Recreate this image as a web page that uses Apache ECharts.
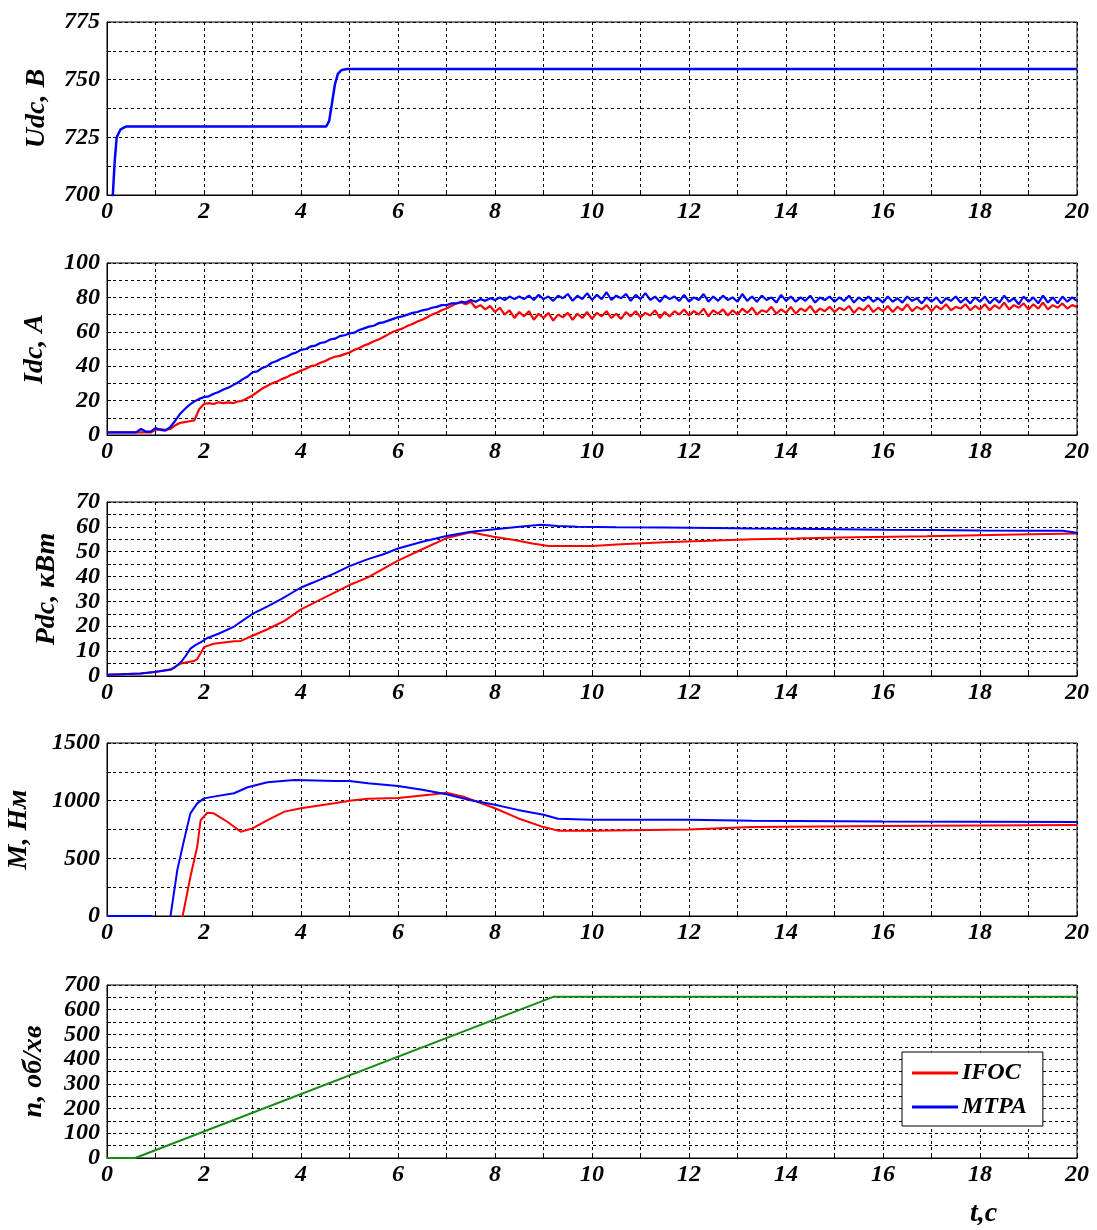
<!DOCTYPE html>
<html>
<head>
<meta charset="utf-8">
<script src="https://cdn.jsdelivr.net/npm/echarts@6/dist/echarts.min.js"></script>
<style>
html,body{margin:0;padding:0;background:#fff;}
#chart{width:1097px;height:1230px;}
</style>
</head>
<body>
<div id="chart"></div>
<script>
// ---------- DATA ----------
// Udc, B (MTPA only) : [t, value]
const UDC = [[0.05,690],[0.12,700],[0.16,715],[0.2,725],[0.28,728.5],[0.4,729.7],[4.52,729.7],[4.58,732],[4.64,740],[4.7,748],[4.76,752.5],[4.84,754.2],[4.95,754.6],[20,754.6]];

// Idc, A sampled every 0.1 s from t = 0 to 20
const IDC_STEP = 0.1;
const IDC_MTPA = [
1.5,1.5,1.5,1.5,1.5,1.5,1.5,3.5,2,2,
4,3,2.5,4.5,8,12,15,17.5,19.5,21,
22,22.5,24,25,26.5,27.5,29,30.5,32.5,34,
36.5,37,39,40,42,43,44.5,45.5,47,48,
49.5,50,51.5,52,53.5,54,55.5,56,57.5,58,
59,59.5,61,62,63,63.5,65,65.5,66.5,67.5,
68.5,69,70,71,71.5,72.5,73,74,74.5,75.5,
75.5,76.5,76.5,77.5,77,78.5,77.5,79,78,79.5,
78.5,80,78.5,80.5,79,80.5,79,81,78.5,81.5,
79,80.5,78,81,79.5,82,78,81,79,82.5,
78.5,81.5,79,83,78.5,81,79.5,82,78,81.5,
79,82.5,78.5,80.5,77.5,81,79,80.5,78,81.5,
77.5,80,78.5,82,77.5,80.5,78,81,78.5,80,
77.5,82,78,80.5,77.5,81,78.5,80,77,81.5,
78,80.5,77.5,80,78,81,77,80,78.5,80.5,
77.5,80,78,81,77,80,78,80.5,77.5,79.5,
77,80.5,77.5,79.5,77,80.5,78,79.5,76.5,80,
77.5,80,76.5,79.5,78,80.5,77,79.5,76.5,80,
77.5,80.5,76.5,79.5,77,81,77.5,79.5,76,80.5,
77.5,80,76.5,81,77,80,76.5,80.5,77.5,80,
78];
const IDC_IFOC = [
1.5,1.5,1.5,1.5,1.5,1.5,1.5,1.5,1.5,1.5,
3,3.5,3,3.5,5.5,7,7.5,8,8.5,15,
18,18.5,18,19,18.5,19,18.5,19.5,20,21.5,
23,25,27,28.5,30,31,32.5,33.5,35,36,
37.5,38.5,40,40.5,42,43,44.5,45.5,46,47,
48,49.5,50.5,52,53,54.5,55.5,57,58.5,60,
61,62,63.5,64.5,66,67,68.5,70,71,72.5,
73.5,75,76.5,77,76,77.5,74,75.5,73,75,
71.5,74,70,72.5,68,71.5,69,72,67,70.5,
68,71,66.5,70,68.5,71,67,70.5,68,71.5,
67.5,71,69,72,68,70.5,67.5,71.5,69,72,
68.5,71,69.5,72.5,68,71.5,69,72,70,73,
69.5,72,70,73.5,69,72.5,70.5,73,69.5,72.5,
70,73.5,71,74,70,72.5,71.5,74.5,70.5,73,
71,74.5,70.5,73.5,72,75,71,73.5,72,74.5,
71.5,74,72.5,75,71,74,72.5,75.5,71.5,74,
72,75,71.5,74.5,72.5,76,72,74.5,73,75.5,
72,75,73,76,72.5,74.5,73.5,76,72.5,75,
73,76,72.5,75.5,73.5,77,73,75.5,74,76.5,
73,76,73.5,77,73,75.5,74,76.5,73.5,75.5,
74.5];

// Pdc, kW : [t, value]
const PDC_MTPA = [[0,0.5],[0.3,0.7],[0.69,1],[0.97,1.6],[1.31,2.5],[1.4,3.5],[1.52,5.5],[1.62,8],[1.72,11],[1.83,12.5],[1.93,13.5],[2.07,15.3],[2.3,17],[2.62,19.9],[3,25],[3.31,28],[3.6,31],[4,35.6],[4.3,38],[4.69,41.3],[5,44.2],[5.38,47],[5.7,49],[6,51.3],[6.5,54],[7,56.3],[7.5,58],[8,59],[8.5,60],[8.95,60.8],[9.3,60.3],[9.7,60],[10.5,59.8],[11.5,59.7],[12.5,59.5],[13.3,59.3],[14.2,59.2],[15.1,59],[16,58.8],[17,58.7],[18,58.5],[19,58.4],[19.7,58.4],[20,57.6]];
const PDC_IFOC = [[0,0.5],[0.7,1],[1.0,1.6],[1.31,2.7],[1.52,5],[1.79,6],[1.86,6.8],[2,11.6],[2.2,13],[2.62,14],[2.76,14.1],[3,16.2],[3.31,18.8],[3.66,22.2],[4,26.8],[4.41,30.8],[5,36.6],[5.38,39.7],[6,46.4],[6.5,51],[7,55.5],[7.5,57.8],[7.97,56],[8.4,54.7],[8.77,53.3],[9.1,52.3],[10,52.3],[10.6,53],[11.5,53.8],[12.4,54.4],[13.3,55],[14.2,55.3],[15.1,55.7],[16.9,56.2],[18.75,56.9],[20,57.3]];

// M, Nm : [t, value]
const M_MTPA = [[0,0],[0.93,0],[1.0,-250],[1.25,-200],[1.31,0],[1.45,400],[1.59,660],[1.72,890],[1.86,977],[2,1020],[2.2,1035],[2.62,1064],[2.9,1116],[3.31,1159],[3.86,1180],[4.3,1175],[4.69,1171],[5,1170],[5.38,1150],[6,1127],[6.5,1095],[7,1055],[7.5,1003],[8,965],[8.47,920],[9,878],[9.3,843],[10,835],[12,835],[13.3,826],[16,820],[18,818],[20,815]];
const M_IFOC = [[0,0],[0.9,0],[1.0,-300],[1.5,-100],[1.56,0],[1.72,340],[1.86,600],[1.93,830],[2.07,895],[2.2,890],[2.48,817],[2.76,730],[3,760],[3.31,832],[3.66,905],[4,934],[4.69,977],[5,1000],[5.38,1017],[6,1024],[6.7,1054],[7,1068],[7.35,1034],[8,934],[8.47,848],[9,771],[9.3,740],[10,740],[12,750],[13.3,771],[16,780],[18,785],[20,790]];

// n, rpm : [t, value]
const N_SPEED = [[0,0],[0.58,0],[9.2,652],[20,652]];

// Axis definitions (labels)
const Y_NAMES = ['Udc, B', 'Idc, A', 'Pdc, кВт', 'M, Нм', 'n, об/хв'];
const LEGEND_NAMES = ['IFOC', 'MTPA'];
const X_NAME = 't,c';

// ---------- CHART ----------
const FONT = '"Liberation Serif", "Times New Roman", serif';
const RED = '#ff0000', BLUE = '#0000ff', GREEN = '#178a17';

const panels = [
  {top: 22,  height: 173, min: 700, max: 775, interval: 12.5, step: 25, gap: 56},
  {top: 263, height: 172, min: 0, max: 100, interval: 10, step: 20, gap: 58},
  {top: 502, height: 174, min: 0, max: 70, interval: 5, step: 10, gap: 46},
  {top: 743, height: 173, min: 0, max: 1500, interval: 250, step: 500, gap: 74},
  {top: 985, height: 173, min: 0, max: 700, interval: 50, step: 100, gap: 59}
];

const grids = [], xAxes = [], yAxes = [];
const gridLine = {show: true, lineStyle: {color: '#000', width: 1, type: [3, 3]}};
panels.forEach((p, i) => {
  grids.push({left: 107, width: 970, top: p.top, height: p.height, show: true, borderColor: '#000', borderWidth: 1, backgroundColor: 'transparent', containLabel: false, outerBoundsMode: 'none'});
  xAxes.push({
    type: 'value', gridIndex: i, min: 0, max: 20, interval: 1,
    axisLine: {show: true, lineStyle: {color: '#000', width: 1}},
    axisTick: {show: true, inside: true, length: 4, lineStyle: {color: '#000'}},
    splitLine: gridLine,
    axisLabel: {
      margin: 5, color: '#000', fontFamily: FONT, fontSize: 24, fontWeight: 'bold', fontStyle: 'italic',
      formatter: v => (Math.round(v) % 2 === 0 ? String(Math.round(v)) : '')
    }
  });
  yAxes.push({
    type: 'value', gridIndex: i, min: p.min, max: p.max, interval: p.interval,
    name: Y_NAMES[i], nameLocation: 'middle', nameGap: p.gap,
    nameTextStyle: {color: '#000', fontFamily: FONT, fontSize: 28, fontWeight: 'bold', fontStyle: 'italic'},
    axisLine: {show: true, lineStyle: {color: '#000', width: 1}},
    axisTick: {show: true, inside: true, length: 4, lineStyle: {color: '#000'}},
    splitLine: gridLine,
    axisLabel: {
      margin: 7, color: '#000', fontFamily: FONT, fontSize: 24, fontWeight: 'bold', fontStyle: 'italic',
      formatter: v => {
        const r = (v - p.min) / p.step;
        return Math.abs(r - Math.round(r)) < 1e-6 ? String(Math.round(v)) : '';
      }
    }
  });
});

const toPairs = (arr, step) => arr.map((v, i) => [+(i * step).toFixed(2), v]);

function line(name, color, data, idx, width) {
  return {
    name: name, type: 'line', xAxisIndex: idx, yAxisIndex: idx, data: data,
    showSymbol: false, symbol: 'none', clip: true, animation: false,
    lineStyle: {color: color, width: width || 2}, itemStyle: {color: color},
    emphasis: {disabled: true}
  };
}

const series = [
  line('MTPA', BLUE, UDC, 0, 2.5),
  line('IFOC', RED, toPairs(IDC_IFOC, IDC_STEP), 1, 2.2),
  line('MTPA', BLUE, toPairs(IDC_MTPA, IDC_STEP), 1, 2.2),
  line('IFOC', RED, PDC_IFOC, 2, 2),
  line('MTPA', BLUE, PDC_MTPA, 2, 2),
  line('IFOC', RED, M_IFOC, 3, 2),
  line('MTPA', BLUE, M_MTPA, 3, 2),
  line('n', GREEN, N_SPEED, 4, 2)
];

const chart = echarts.init(document.getElementById('chart'), null, {renderer: 'canvas'});
chart.setOption({
  animation: false,
  backgroundColor: '#fff',
  grid: grids,
  xAxis: xAxes,
  yAxis: yAxes,
  series: series,
  legend: {
    data: LEGEND_NAMES, orient: 'vertical', left: 902, top: 1052,
    icon: 'rect', itemWidth: 46, itemHeight: 3, itemGap: 10,
    padding: [9, 16, 7, 10],
    backgroundColor: '#fff', borderColor: '#000', borderWidth: 1,
    selectedMode: false, z: 10,
    textStyle: {color: '#000', fontFamily: FONT, fontSize: 24, fontWeight: 'bold', fontStyle: 'italic', padding: [0,0,0,-1]}
  },
  graphic: [{
    type: 'text', left: 970, top: 1200,
    style: {text: X_NAME, fill: '#000', font: 'italic bold 28px ' + FONT}
  }]
});
</script>
</body>
</html>
